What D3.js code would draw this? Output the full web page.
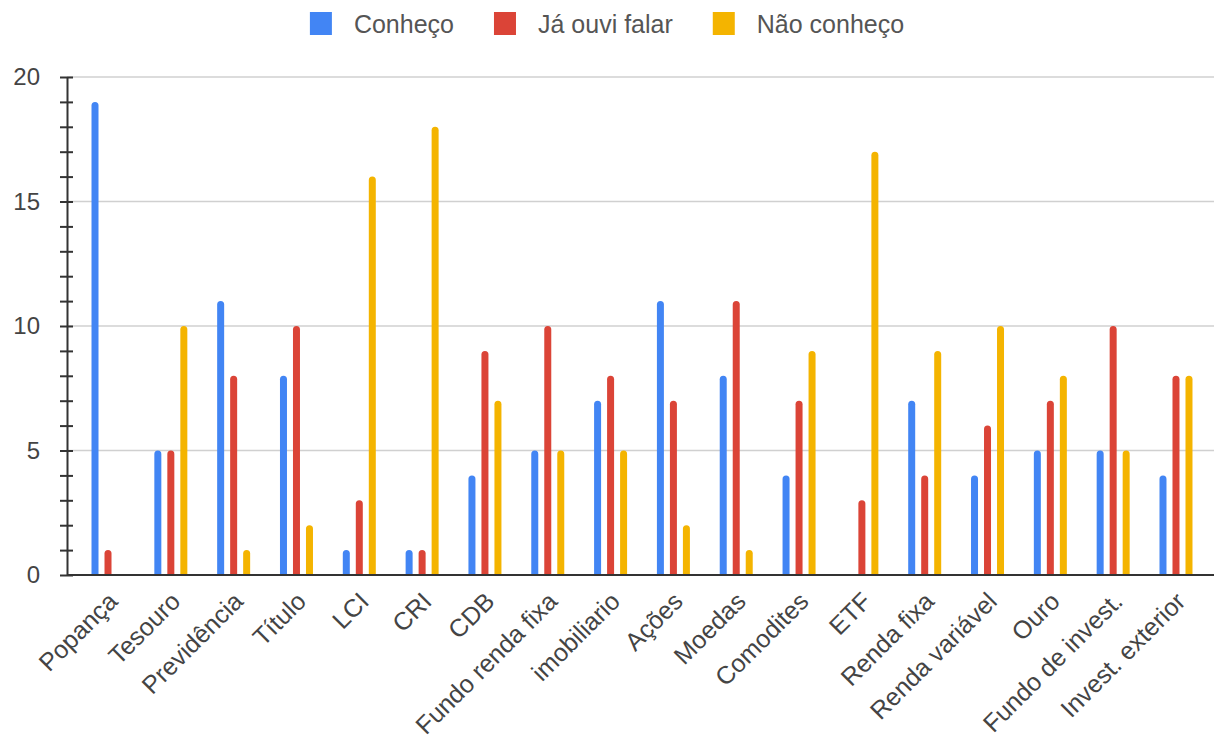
<!DOCTYPE html>
<html>
<head>
<meta charset="utf-8">
<script src="https://cdn.jsdelivr.net/npm/d3@7"></script>
<style>
  html, body { margin: 0; padding: 0; background: #fff; }
  svg { display: block; font-family: "Liberation Sans", Arial, sans-serif; }
</style>
</head>
<body>
<svg id="chart" width="1214" height="738"></svg>
<script>
// Investment products and how many respondents know each one
const categories = [
  "Popança", "Tesouro", "Previdência", "Título", "LCI", "CRI", "CDB",
  "Fundo renda fixa", "imobiliario", "Ações", "Moedas", "Comodites", "ETF",
  "Renda fixa", "Renda variável", "Ouro", "Fundo de invest.", "Invest. exterior"
];
const seriesNames = ["Conheço", "Já ouvi falar", "Não conheço"];
const conheco     = [19, 5, 11, 8, 1, 1, 4, 5, 7, 11, 8, 4, 0, 7, 4, 5, 5, 4];
const jaOuviFalar = [1, 5, 8, 10, 3, 1, 9, 10, 8, 7, 11, 7, 3, 4, 6, 7, 10, 8];
const naoConheco  = [0, 10, 1, 2, 16, 18, 7, 5, 5, 2, 1, 9, 17, 9, 10, 8, 5, 8];
const yTicks = [0, 5, 10, 15, 20];
const seriesColors = ["#4285F4", "#DB4437", "#F4B400"];

const seriesValues = [conheco, jaOuviFalar, naoConheco];

const svg = d3.select("#chart");
const W = 1214, H = 738;
const plot = { left: 67, right: 1214, top: 77, bottom: 575 };

const y = d3.scaleLinear().domain([0, 20]).range([plot.bottom, plot.top]);
const x = d3.scaleBand().domain(categories).range([76.6, 1207.4]).padding(0);
const xSub = d3.scaleBand().domain(seriesNames).range([-22.5, 22.5]).padding(6 / 13);
const color = d3.scaleOrdinal().domain(seriesNames).range(seriesColors);

// Gridlines
svg.append("g")
  .selectAll("line")
  .data(yTicks.filter(d => d > 0))
  .join("line")
  .attr("x1", plot.left).attr("x2", plot.right)
  .attr("y1", d => y(d)).attr("y2", d => y(d))
  .attr("stroke", "#d0d0d0").attr("stroke-width", 1.5);

// Bars with rounded tops, clipped at the baseline
svg.append("defs").append("clipPath").attr("id", "plotClip")
  .append("rect").attr("x", plot.left).attr("y", 0)
  .attr("width", plot.right - plot.left).attr("height", plot.bottom);

const rows = [];
categories.forEach((c, i) => {
  seriesNames.forEach((s, j) => {
    rows.push({ cat: c, series: s, value: seriesValues[j][i] });
  });
});

svg.append("g").attr("clip-path", "url(#plotClip)")
  .selectAll("rect")
  .data(rows.filter(d => d.value > 0))
  .join("rect")
  .attr("x", d => x(d.cat) + x.bandwidth() / 2 + xSub(d.series))
  .attr("width", xSub.bandwidth())
  .attr("y", d => y(d.value))
  .attr("height", d => plot.bottom - y(d.value) + 6)
  .attr("rx", xSub.bandwidth() / 2)
  .attr("fill", d => color(d.series));

// Y axis with a tick at every unit
const yAxis = d3.axisLeft(y).tickValues(d3.range(0, 21)).tickSize(0).tickFormat("");
const yAxisG = svg.append("g").attr("transform", `translate(${plot.left},0)`).call(yAxis);
yAxisG.select(".domain").attr("stroke", "#333").attr("stroke-width", 2);
yAxisG.selectAll(".tick line")
  .attr("x1", -7).attr("x2", 6)
  .attr("stroke", "#333").attr("stroke-width", 2);

svg.append("g")
  .selectAll("text")
  .data(yTicks)
  .join("text")
  .attr("x", 40)
  .attr("y", d => y(d))
  .attr("dy", "0.35em")
  .attr("text-anchor", "end")
  .attr("font-size", 24)
  .attr("fill", "#444")
  .text(d => d);

// X axis baseline
const xAxis = d3.axisBottom(x).tickSize(0).tickFormat("");
const xAxisG = svg.append("g").attr("transform", `translate(0,${plot.bottom})`).call(xAxis);
xAxisG.select(".domain").attr("d", `M${plot.left},0H${plot.right}`)
  .attr("stroke", "#333").attr("stroke-width", 2);

// Slanted category labels
svg.append("g")
  .selectAll("text")
  .data(categories)
  .join("text")
  .attr("transform", d => `translate(${x(d) + x.bandwidth() / 2 + 11},${plot.bottom + 28}) rotate(-45)`)
  .attr("text-anchor", "end")
  .attr("font-size", 25)
  .attr("fill", "#444")
  .text(d => d);

// Legend, centred above the plot
const legend = svg.append("g");
const items = legend.selectAll("g")
  .data(seriesNames)
  .join("g");
items.append("rect")
  .attr("width", 22).attr("height", 23)
  .attr("y", 12)
  .attr("fill", d => color(d));
items.append("text")
  .attr("x", 44)
  .attr("y", 24)
  .attr("dy", "0.35em")
  .attr("font-size", 25)
  .attr("fill", "#555")
  .text(d => d);

const gap = 40;
const widths = items.nodes().map(n => 44 + d3.select(n).select("text").node().getComputedTextLength());
const total = d3.sum(widths) + gap * (widths.length - 1);
let cursor = (W - total) / 2;
items.attr("transform", (d, i) => {
  const t = `translate(${cursor},0)`;
  cursor += widths[i] + gap;
  return t;
});
</script>
</body>
</html>
